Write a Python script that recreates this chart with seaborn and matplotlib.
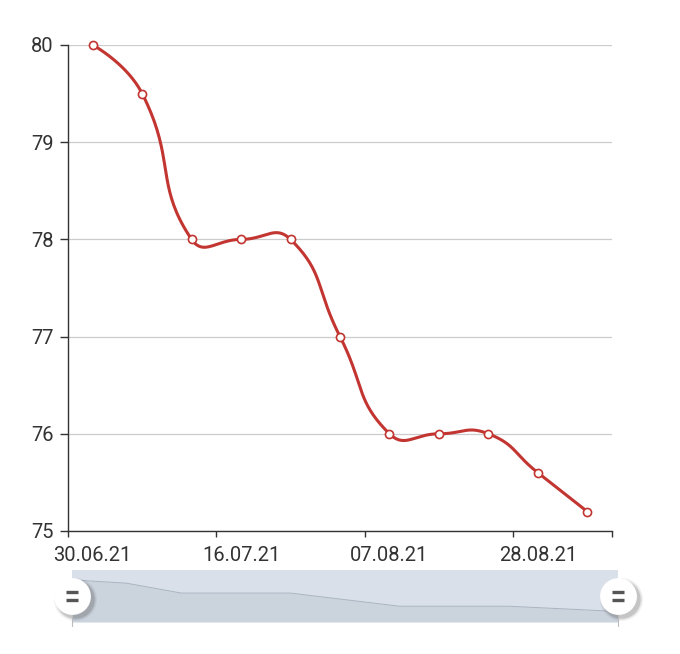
import numpy as np
import pandas as pd
import matplotlib
matplotlib.use("Agg")
import matplotlib.pyplot as plt
import matplotlib.transforms as mtransforms
import seaborn as sns

# data
dates = ["30.06.21", "05.07.21", "11.07.21", "16.07.21", "23.07.21", "30.07.21",
         "07.08.21", "14.08.21", "21.08.21", "28.08.21", "04.09.21"]
values = [80, 79.5, 78, 78, 78, 77, 76, 76, 76, 75.6, 75.2]
y_ticks = [75, 76, 77, 78, 79, 80]
label_every = 3

RED = "#c23531"
TEXT = "#333333"


def smooth_line(xs, ys, sx, sy, smooth=0.5, steps=40):
    # echarts-like bezier smoothing, distances measured in pixel space
    p = np.column_stack([np.asarray(xs, float) * sx, np.asarray(ys, float) * sy])
    n = len(p)
    cps = []
    for i in range(n):
        if i == 0 or i == n - 1:
            cps.append((p[i], p[i]))
            continue
        prev, nxt = p[i - 1], p[i + 1]
        v = (nxt - prev) * smooth
        d0 = np.hypot(*(p[i] - prev))
        d1 = np.hypot(*(nxt - p[i]))
        s = d0 + d1
        if s > 0:
            d0, d1 = d0 / s, d1 / s
        cps.append((p[i] - v * d0, p[i] + v * d1))
    t = np.linspace(0, 1, steps)[:, None]
    out = []
    for i in range(n - 1):
        a, b, c, d = p[i], cps[i][1], cps[i + 1][0], p[i + 1]
        seg = ((1 - t) ** 3) * a + 3 * ((1 - t) ** 2) * t * b + 3 * (1 - t) * t ** 2 * c + t ** 3 * d
        out.append(seg if i == 0 else seg[1:])
    out = np.vstack(out)
    return out[:, 0] / sx, out[:, 1] / sy


sns.set_theme(style="white")
plt.rcParams["font.family"] = ["Roboto", "DejaVu Sans"]

fig = plt.figure(figsize=(6.8, 6.54), dpi=100)
ax = fig.add_axes([0.1, 0.1881, 0.8, 0.7431])

df = pd.DataFrame({"x": np.arange(len(values)), "y": values})
px_per_cat = 544 / len(values)
px_per_unit = 486 / 5
sx_, sy_ = smooth_line(df["x"], df["y"], px_per_cat, px_per_unit)
ax.plot(sx_, sy_, color=RED, lw=2.2, zorder=3, solid_capstyle="round")
sns.scatterplot(data=df, x="x", y="y", ax=ax, s=34, color="white",
                edgecolor=RED, linewidth=1.2, zorder=4, clip_on=False)

ax.set_xlim(-0.5, len(values) - 0.5)
ax.set_ylim(min(y_ticks), max(y_ticks))
ax.set_yticks(y_ticks)
ax.set_yticklabels([str(v) for v in y_ticks])

# ticks on band boundaries, labels on band centres
tick_pos = [i - 0.5 for i in range(0, len(values), label_every)] + [len(values) - 0.5]
label_idx = list(range(0, len(values), label_every))
ax.set_xticks(tick_pos)
ax.set_xticklabels([""] * len(tick_pos))
ax.set_xticks(label_idx, minor=True)
ax.set_xticklabels([dates[i] for i in label_idx], minor=True)

ax.set_xlabel("")
ax.set_ylabel("")
ax.yaxis.grid(True, color="#cccccc", lw=0.9)
ax.xaxis.grid(False)
for side in ["top", "right"]:
    ax.spines[side].set_visible(False)
for side in ["left", "bottom"]:
    ax.spines[side].set_color(TEXT)
    ax.spines[side].set_linewidth(1.0)
ax.tick_params(axis="both", which="both", direction="out", width=1,
               color=TEXT, labelcolor=TEXT, labelsize=14.5)
ax.tick_params(axis="x", which="major", length=4.5, bottom=True)
ax.tick_params(axis="x", which="minor", length=0, pad=10.5, bottom=True)
ax.tick_params(axis="y", length=6, pad=4.5, left=True)

# data zoom slider
sl = fig.add_axes([0.1059, 0.0489, 0.8029, 0.0795])
sl.set_facecolor("#d9e0ea")
sl.fill_between(df["x"], df["y"], 73.6, color="#cbd3dd", lw=0)
sns.lineplot(data=df, x="x", y="y", ax=sl, color="#aab4c0", lw=0.7)
sl.set_xlim(0, len(values) - 1)
sl.set_ylim(73.6, 81.5)
sl.set_xticks([])
sl.set_yticks([])
sl.set_xlabel("")
sl.set_ylabel("")
for s in sl.spines.values():
    s.set_visible(False)

hy = 77.6
for hx in [0, len(values) - 1]:
    for k, a in [(31, 0.07), (29, 0.11), (27.5, 0.16)]:
        shadow = mtransforms.offset_copy(sl.transData, fig=fig, x=3, y=-3, units="dots")
        sl.plot([hx], [hy], "o", ms=k, color="#444444", alpha=a, mec="none",
                transform=shadow, clip_on=False, zorder=5)
    sl.plot([hx, hx], [hy, 73.0], color="#bbbbbb", lw=0.8, clip_on=False, zorder=5)
    sl.plot([hx], [hy], "o", ms=26.5, color="white", mec="none", clip_on=False, zorder=6)
    for dy in (4, -4):
        bar = mtransforms.offset_copy(sl.transData, fig=fig, x=0, y=dy, units="dots")
        sl.plot([hx], [hy], "_", ms=8.5, mew=2.4, color="#555555", transform=bar,
                clip_on=False, zorder=7)

fig.savefig("out.png", dpi=100)
